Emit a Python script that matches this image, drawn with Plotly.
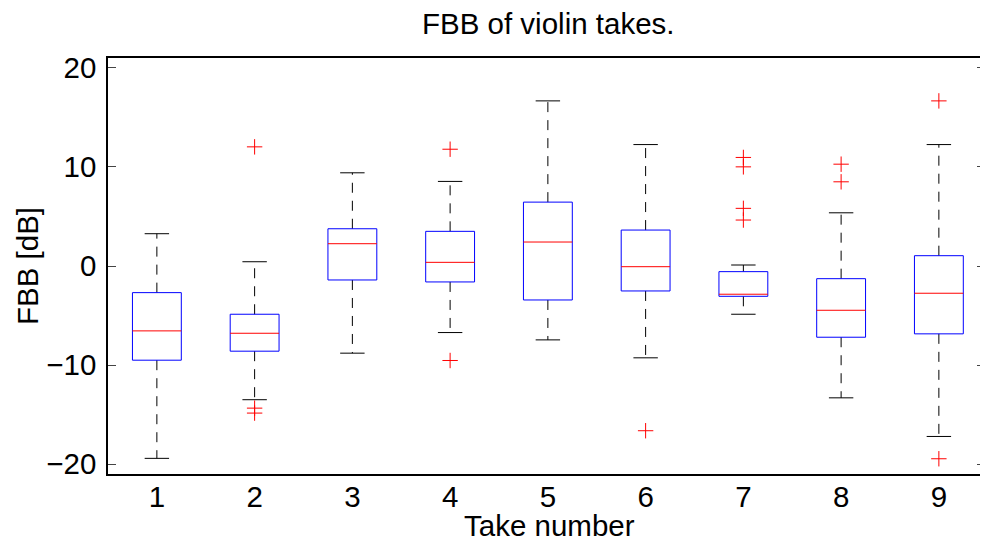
import plotly.graph_objects as go

# ---- data ----
takes = [1, 2, 3, 4, 5, 6, 7, 8, 9]
q1 = [-9.51, -8.60, -1.41, -1.61, -3.43, -2.52, -3.06, -7.19, -6.85]
median = [-6.55, -6.79, 2.25, 0.37, 2.42, -0.07, -2.85, -4.47, -2.75]
q3 = [-2.69, -4.87, 3.76, 3.50, 6.45, 3.63, -0.57, -1.28, 1.04]
whisker_low = [-19.42, -13.50, -8.80, -6.72, -7.46, -9.27, -4.87, -13.31, -17.21]
whisker_high = [3.26, 0.43, 9.41, 8.54, 16.67, 12.26, 0.10, 5.37, 12.26]
outlier_take = [2, 2, 2, 4, 4, 6, 7, 7, 7, 7, 8, 8, 9, 9]
outlier_value = [12.03, -14.35, -14.85, 11.79, -9.54, -16.63,
                 10.96, 10.01, 5.82, 4.64, 10.28, 8.50, 16.67, -19.46]
y_ticks = [-20, -10, 0, 10, 20]
y_tick_labels = ["\u221220", "\u221210", "0", "10", "20"]
x_tick_labels = [str(t) for t in takes]

BOX_HW = 0.25
CAP_HW = 0.125
FONT = "Liberation Sans, Arial, Helvetica, sans-serif"
FS = 29.5

bx, by, mx, my, wx, wy, cx, cy = [], [], [], [], [], [], [], []
for t, a, m, b, lo, hi in zip(takes, q1, median, q3, whisker_low, whisker_high):
    bx += [t - BOX_HW, t + BOX_HW, t + BOX_HW, t - BOX_HW, t - BOX_HW, None]
    by += [a, a, b, b, a, None]
    mx += [t - BOX_HW, t + BOX_HW, None]
    my += [m, m, None]
    wx += [t, t, None, t, t, None]
    wy += [b, hi, None, a, lo, None]
    cx += [t - CAP_HW, t + CAP_HW, None, t - CAP_HW, t + CAP_HW, None]
    cy += [hi, hi, None, lo, lo, None]

fig = go.Figure()
fig.add_trace(go.Scatter(x=wx, y=wy, mode="lines",
                         line=dict(color="black", width=1, dash="10px,8px"),
                         hoverinfo="skip", showlegend=False))
fig.add_trace(go.Scatter(x=cx, y=cy, mode="lines",
                         line=dict(color="black", width=1),
                         hoverinfo="skip", showlegend=False))
fig.add_trace(go.Scatter(x=bx, y=by, mode="lines",
                         line=dict(color="#0000ff", width=1),
                         hoverinfo="skip", showlegend=False))
fig.add_trace(go.Scatter(x=mx, y=my, mode="lines",
                         line=dict(color="#ff0000", width=1),
                         hoverinfo="skip", showlegend=False))
fig.add_trace(go.Scatter(x=outlier_take, y=outlier_value, mode="markers",
                         marker=dict(symbol="cross-thin", size=11,
                                     line=dict(color="#ff0000", width=1)),
                         hoverinfo="skip", showlegend=False))
fig.add_trace(go.Scatter(x=[None], y=[None], yaxis="y2", mode="markers",
                         hoverinfo="skip", showlegend=False))

W, H = 981, 542
L, R, T, B = 108, 1, 58, 68
step = 97.75
x_hi = 0.5 + (W - R - L) / step
PW, PH = W - L - R, H - T - B

fig.update_layout(
    width=W, height=H,
    margin=dict(l=L, r=R, t=T, b=B, pad=0),
    paper_bgcolor="white", plot_bgcolor="white",
    font=dict(family=FONT, size=FS, color="black"),
    xaxis=dict(range=[0.5, x_hi], tickmode="array", tickvals=takes,
               ticktext=x_tick_labels, ticks="", showgrid=False,
               zeroline=False, showline=True, linecolor="black",
               linewidth=1.6, mirror=True, ticklabelstandoff=-4,
               tickfont=dict(family=FONT, size=FS)),
    yaxis=dict(range=[-21, 21], tickmode="array", tickvals=y_ticks,
               ticktext=y_tick_labels,
               ticks="inside", ticklen=8, tickwidth=1, tickcolor="#444",
               showgrid=False, zeroline=False, showline=True,
               linecolor="black", linewidth=1.6, mirror=False,
               ticklabelstandoff=4,
               tickfont=dict(family=FONT, size=FS)),
    yaxis2=dict(range=[-21, 21], overlaying="y", side="right",
                tickmode="array", tickvals=y_ticks, ticks="inside",
                ticklen=3, tickwidth=1, tickcolor="#444",
                showticklabels=False, showgrid=False, zeroline=False,
                showline=False),
    annotations=[
        dict(text="FBB of violin takes.", xref="paper", yref="paper",
             x=(548.5 - L) / PW, y=(H - B - 23.5) / PH,
             xanchor="center", yanchor="middle", showarrow=False,
             font=dict(family=FONT, size=FS)),
        dict(text="Take number", xref="paper", yref="paper",
             x=(549.5 - L) / PW, y=(H - B - 525) / PH,
             xanchor="center", yanchor="middle", showarrow=False,
             font=dict(family=FONT, size=FS)),
        dict(text="FBB [dB]", xref="paper", yref="paper",
             x=(27 - L) / PW, y=0.5, textangle=-90,
             xanchor="center", yanchor="middle", showarrow=False,
             font=dict(family=FONT, size=FS)),
    ],
)

fig.write_html("out.html")
